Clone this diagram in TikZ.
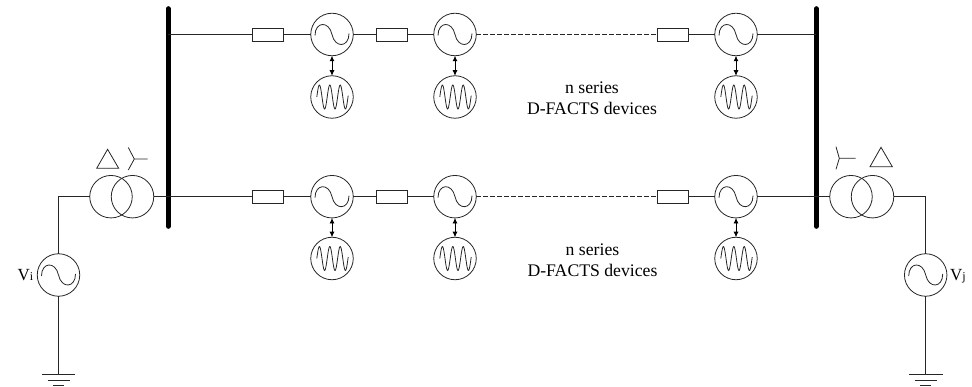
\documentclass[tikz,border=0pt]{standalone}
\usepackage{fontspec}
\setmainfont{Liberation Serif}
\usetikzlibrary{arrows.meta}
\tikzset{
  wire/.style={line width=0.8pt,black!85},
  bus/.style={line width=4.6pt,line cap=round,black},
  ring/.style={circle,draw=black!85,line width=0.8pt,minimum size=42.5pt,inner sep=0pt,outer sep=0pt},
  acsource/.style={ring,path picture={
    \draw[line width=0.8pt,black!85,shift={(path picture bounding box.center)}]
      (-17,1) .. controls (-17,-13) and (-3,-14) .. (0,0) .. controls (3,14) and (17,13) .. (17,-1);}},
  ripple/.style={ring,path picture={
    \draw[line width=0.8pt,black!85,shift={(path picture bounding box.center)}]
      plot[smooth,samples=65,domain=-15.2:16.2] (\x,{-12*sin((\x+15.2)*34.6)});}},
  resistor/.style={draw=black!85,line width=0.8pt,minimum width=31pt,minimum height=13pt,inner sep=0pt,outer sep=0pt},
  link/.style={line width=0.8pt,black,{Latex[length=5.5pt,width=5pt]}-{Latex[length=5.5pt,width=5pt]}},
  dashwire/.style={wire,dash pattern=on 4.5pt off 2.5pt},
  caption/.style={font=\fontsize{17.7}{20.5}\selectfont,align=center,inner sep=0pt},
  vlabel/.style={font=\fontsize{17}{20}\selectfont,inner sep=0pt}
}
\begin{document}
\begin{tikzpicture}[x=1pt,y=-1pt]
\useasboundingbox (0,0) rectangle (972,387);
% buses
\coordinate (bLa) at (168.3,8.5); \coordinate (bLb) at (168.3,226.5);
\coordinate (bRa) at (816.3,8.5); \coordinate (bRb) at (816.3,226.5);
\draw[bus] (bLa) -- (bLb);
\draw[bus] (bRa) -- (bRb);
\coordinate (tL) at (168.3,34.5); \coordinate (tR) at (816.3,34.5);
\coordinate (uL) at (168.3,196.7); \coordinate (uR) at (816.3,196.7);
% top row
\node[resistor] (r1) at (267.5,34.5) {};
\node[acsource] (s1) at (332,34.5) {};
\node[resistor] (r2) at (392,34.5) {};
\node[acsource] (s2) at (455,34.5) {};
\node[resistor] (r3) at (673,34.5) {};
\node[acsource] (s3) at (736,34.5) {};
\node[ripple] (w1) at (332,97) {};
\node[ripple] (w2) at (455,97) {};
\node[ripple] (w3) at (736,97) {};
\draw[wire] (tL) -- (r1) (r1) -- (s1) (s1) -- (r2) (r2) -- (s2) (r3) -- (s3) (s3) -- (tR);
\draw[dashwire] (s2) -- (r3);
\draw[link] (s1) -- (w1);
\draw[link] (s2) -- (w2);
\draw[link] (s3) -- (w3);
% bottom row
\node[resistor] (r4) at (267.5,196.7) {};
\node[acsource] (s4) at (332,196.7) {};
\node[resistor] (r5) at (392,196.7) {};
\node[acsource] (s5) at (455,196.7) {};
\node[resistor] (r6) at (673,196.7) {};
\node[acsource] (s6) at (736,196.7) {};
\node[ripple] (w4) at (332,258.5) {};
\node[ripple] (w5) at (455,258.5) {};
\node[ripple] (w6) at (736,258.5) {};
\draw[wire] (uL) -- (r4) (r4) -- (s4) (s4) -- (r5) (r5) -- (s5) (r6) -- (s6) (s6) -- (uR);
\draw[dashwire] (s5) -- (r6);
\draw[link] (s4) -- (w4);
\draw[link] (s5) -- (w5);
\draw[link] (s6) -- (w6);
% captions
\node[caption] (c1) at (592,98) {n series\\D-FACTS devices};
\node[caption] (c2) at (592.5,260) {n series\\D-FACTS devices};
% left transformer and source
\node[ring] (ta) at (111,196.7) {};
\node[ring] (tb) at (132.5,196.7) {};
\node[acsource] (vi) at (58.5,275) {};
\coordinate (cl) at (58.5,196.7);
\coordinate (gl) at (58.5,374);
\draw[wire] (vi) -- (cl) -- (ta.west);
\draw[wire] (tb.east) -- (uL);
\draw[wire] (vi) -- (gl);
\draw[wire] (42,374.3) -- (75,374.3) (47.5,380) -- (70,380) (53,385.5) -- (64,385.5);
\draw[wire] (107.6,149.3) -- (96.7,168.3) -- (118.7,168.3) -- cycle;
\draw[wire] (147.5,159) -- (134.3,159) (128.3,147.5) -- (134.3,159) -- (128.3,170);
\node[vlabel] (lvi) at (25.5,275.5) {V\fontsize{12}{14}\selectfont i};
% right transformer and source
\node[ring] (tc) at (851,196.7) {};
\node[ring] (td) at (872.5,196.7) {};
\node[acsource] (vj) at (925.7,275) {};
\coordinate (cr) at (925.7,196.7);
\coordinate (gr) at (925.7,374);
\draw[wire] (uR) -- (tc.west);
\draw[wire] (td.east) -- (cr) -- (vj);
\draw[wire] (vj) -- (gr);
\draw[wire] (909,374.3) -- (943,374.3) (914.5,380) -- (937,380) (920,385.5) -- (931,385.5);
\draw[wire] (881,147.3) -- (870,166.7) -- (892.3,166.7) -- cycle;
\draw[wire] (855.7,158.3) -- (839.3,158.3) (836,146.7) -- (839.3,158.3) -- (836,169.3);
\node[vlabel] (lvj) at (958,276) {V\fontsize{12}{14}\selectfont j};
\end{tikzpicture}
\end{document}
